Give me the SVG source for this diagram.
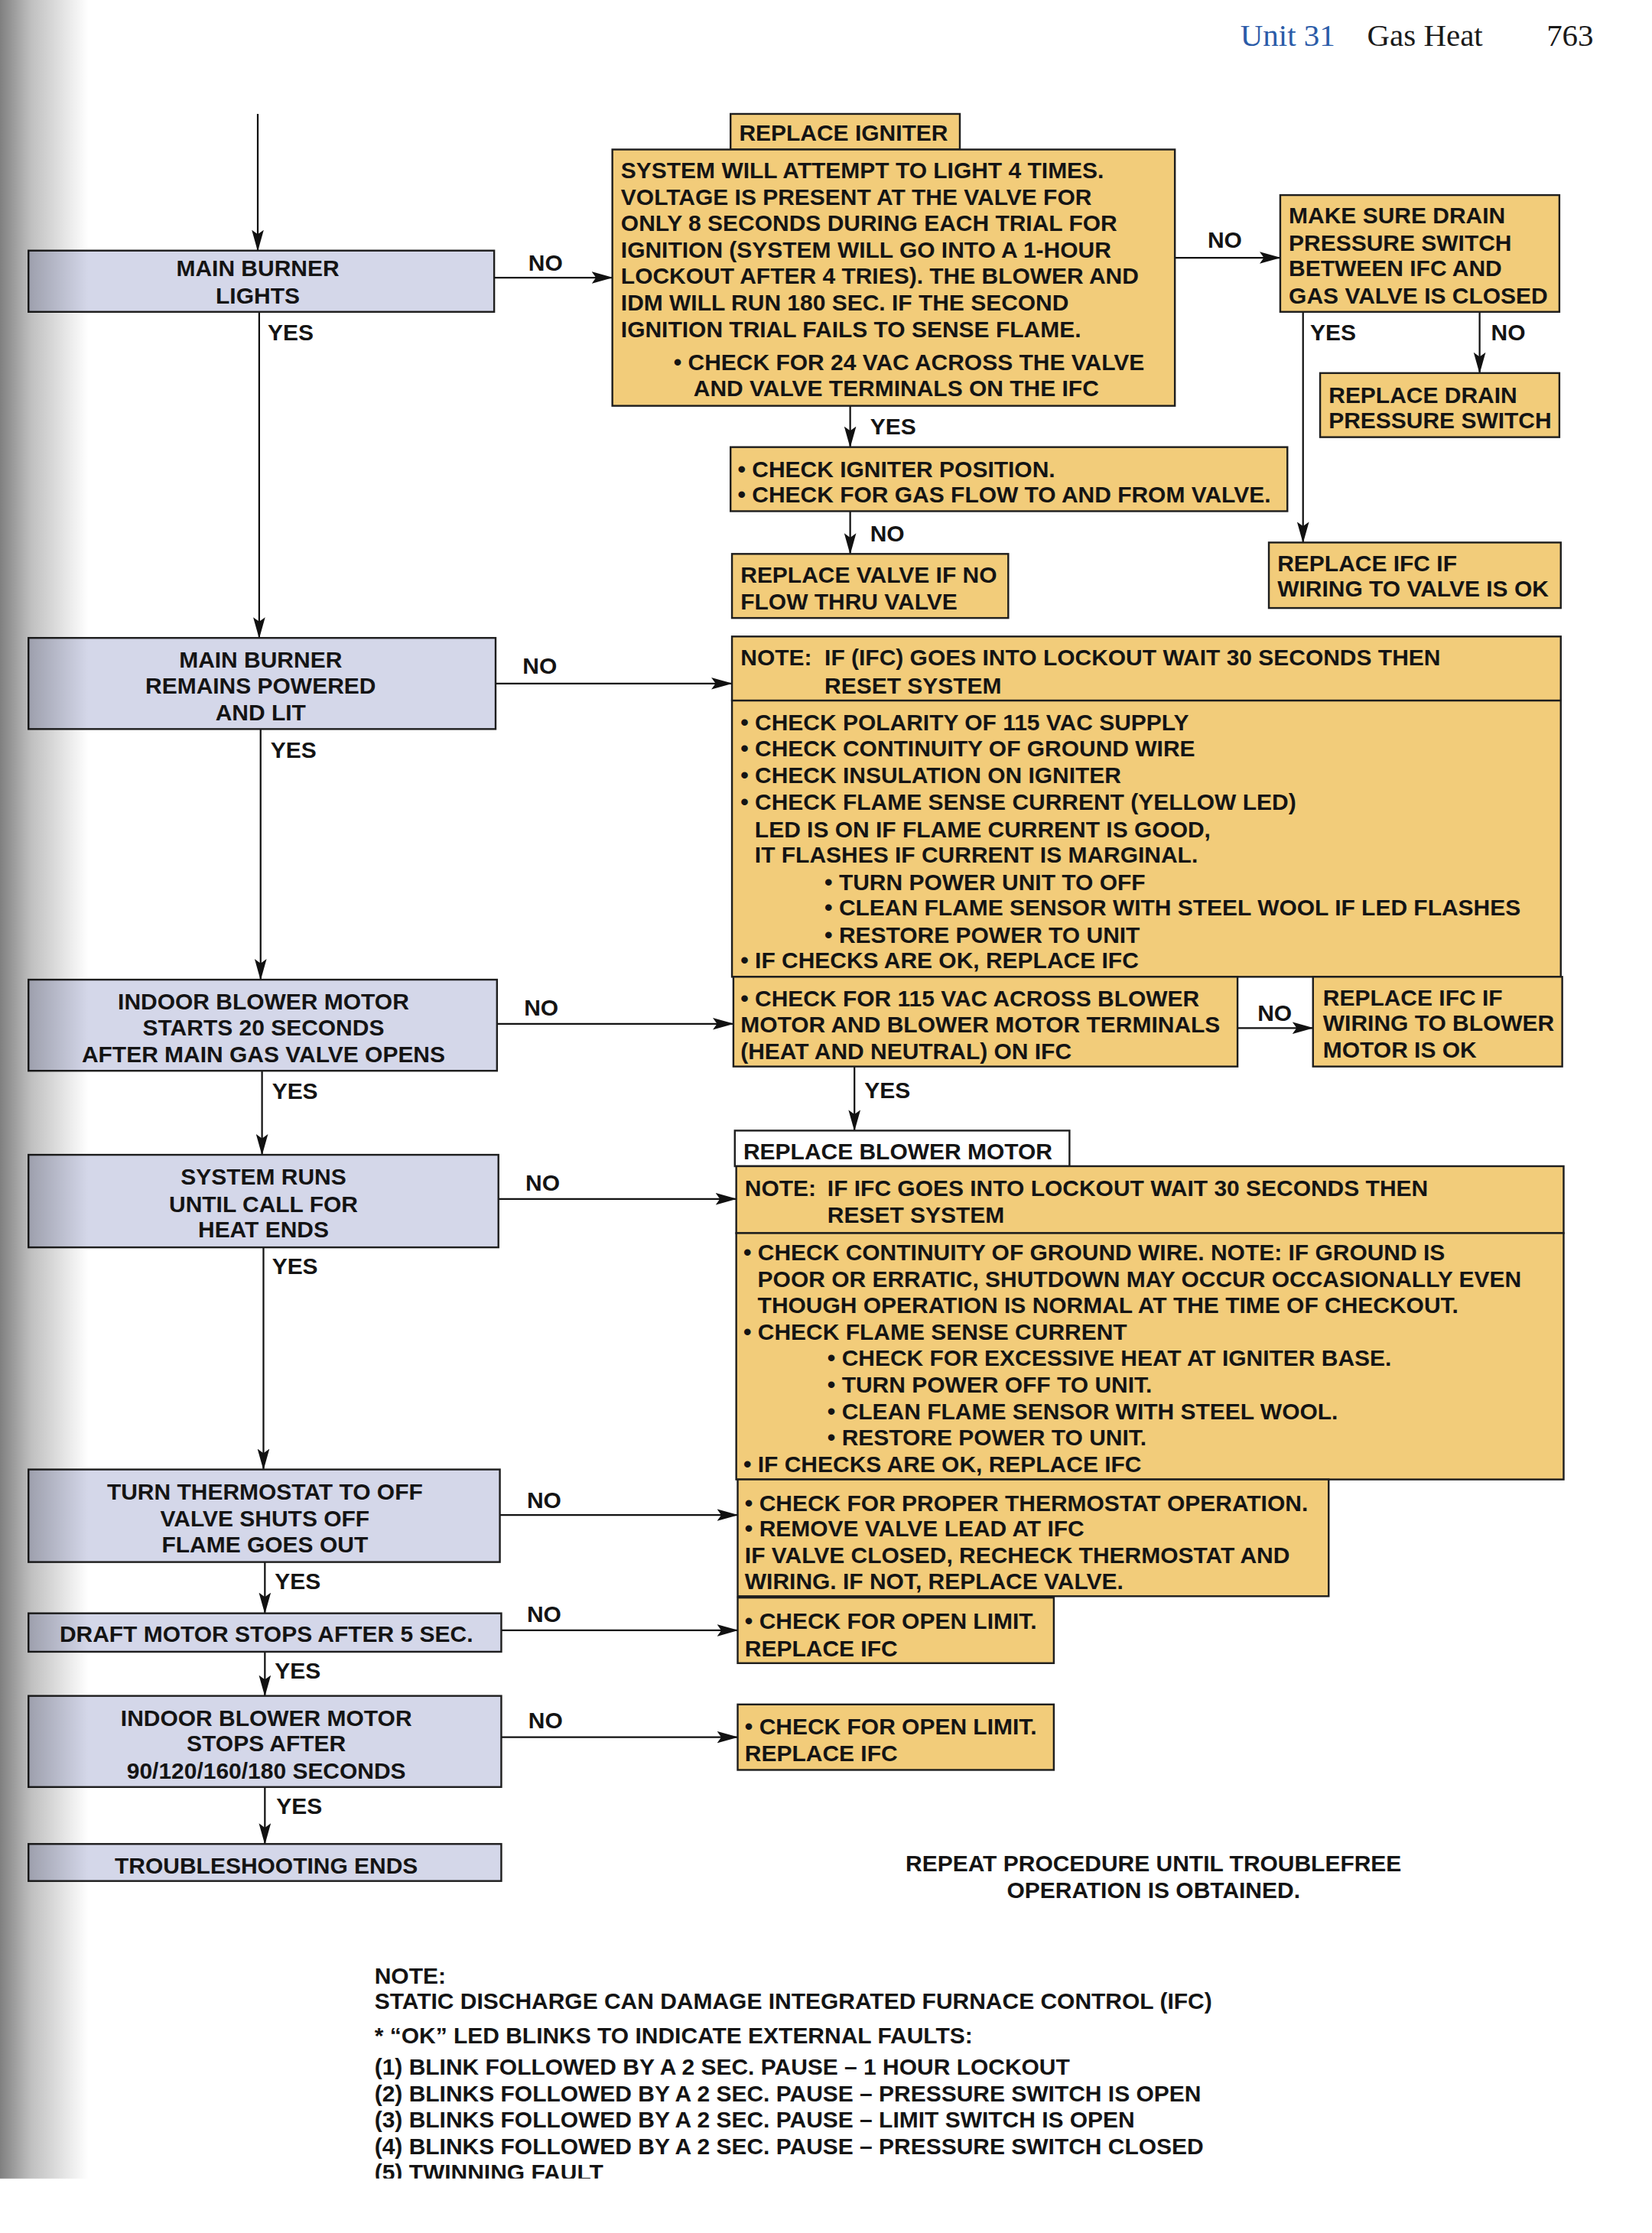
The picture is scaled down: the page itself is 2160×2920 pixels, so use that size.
<svg xmlns="http://www.w3.org/2000/svg" width="2160" height="2920" viewBox="0 0 2160 2920">
<defs>
<style>
.t{font-family:"Liberation Sans",Arial,sans-serif;font-weight:bold;font-size:16.1px;fill:#141414}
.c{text-anchor:middle}
.hd{font-family:"Liberation Serif","Times New Roman",serif;font-size:22px;fill:#1a1a1a}
.q{fill:#d4d7e9;stroke:#1e1e1e;stroke-width:1.3}
.y{fill:#f2cc7a;stroke:#1e1e1e;stroke-width:1.3}
.w{fill:#ffffff;stroke:#1e1e1e;stroke-width:1.3}
.ln{fill:none;stroke:#111;stroke-width:1.2;marker-end:url(#ah)}
</style>
<marker id="ah" markerUnits="userSpaceOnUse" viewBox="0 0 15 9" refX="14.5" refY="4.5" markerWidth="15" markerHeight="9" orient="auto">
<path d="M0,0.3 L15,4.5 L0,8.7 L3,4.5 Z" fill="#111"/>
</marker>
<linearGradient id="gut" x1="0" y1="0" x2="1" y2="0">
<stop offset="0" stop-color="#000" stop-opacity="0.5"/>
<stop offset="0.35" stop-color="#000" stop-opacity="0.25"/>
<stop offset="1" stop-color="#000" stop-opacity="0"/>
</linearGradient>
<clipPath id="pg"><rect x="0" y="0" width="1160" height="1530"/></clipPath>
</defs>
<rect x="0" y="0" width="2160" height="2920" fill="#ffffff"/>
<g transform="scale(1.862)">
<g id="header">
<text class="hd" x="871" y="32" style="fill:#2b5ba8">Unit 31</text>
<text class="hd" x="960" y="32">Gas Heat</text>
<text class="hd" x="1086" y="32">763</text>
</g>

<g id="connectors">
<path class="ln" d="M181,80 V176"/>
<path class="ln" d="M182,219 V448"/>
<path class="ln" d="M183,512 V688"/>
<path class="ln" d="M184,752 V811"/>
<path class="ln" d="M185,876 V1032"/>
<path class="ln" d="M186,1097 V1133"/>
<path class="ln" d="M186,1160 V1191"/>
<path class="ln" d="M186,1255 V1295"/>
<path class="ln" d="M347,195 H430"/>
<path class="ln" d="M348,480 H514"/>
<path class="ln" d="M349,719 H515"/>
<path class="ln" d="M350,842 H517"/>
<path class="ln" d="M351,1064 H518"/>
<path class="ln" d="M352,1145 H518"/>
<path class="ln" d="M352,1220 H518"/>
<path class="ln" d="M825,181 H899"/>
<path class="ln" d="M915,219 V381"/>
<path class="ln" d="M1039,219 V262"/>
<path class="ln" d="M597,285 V314"/>
<path class="ln" d="M597,359 V389"/>
<path class="ln" d="M869,722 H922"/>
<path class="ln" d="M600,749 V794"/>
<text class="t" x="188" y="239">YES</text>
<text class="t" x="190" y="532">YES</text>
<text class="t" x="191" y="772">YES</text>
<text class="t" x="191" y="895">YES</text>
<text class="t" x="193" y="1116">YES</text>
<text class="t" x="193" y="1179">YES</text>
<text class="t" x="194" y="1274">YES</text>
<text class="t" x="371" y="190">NO</text>
<text class="t" x="367" y="473">NO</text>
<text class="t" x="368" y="713">NO</text>
<text class="t" x="369" y="836">NO</text>
<text class="t" x="370" y="1059">NO</text>
<text class="t" x="370" y="1139">NO</text>
<text class="t" x="371" y="1214">NO</text>
<text class="t" x="848" y="174">NO</text>
<text class="t" x="920" y="239">YES</text>
<text class="t" x="1047" y="239">NO</text>
<text class="t" x="611" y="305">YES</text>
<text class="t" x="611" y="380">NO</text>
<text class="t" x="883" y="717">NO</text>
<text class="t" x="607" y="771">YES</text>
</g>

<g id="n-main-burner-lights">
<rect class="q" x="20" y="176" width="327" height="43"/>
<text class="t c" x="181" y="194">MAIN BURNER</text>
<text class="t c" x="181" y="213">LIGHTS</text>
</g>
<g id="n-remains-lit">
<rect class="q" x="20" y="448" width="328" height="64"/>
<text class="t c" x="183" y="469">MAIN BURNER</text>
<text class="t c" x="183" y="487">REMAINS POWERED</text>
<text class="t c" x="183" y="506">AND LIT</text>
</g>
<g id="n-blower-starts">
<rect class="q" x="20" y="688" width="329" height="64"/>
<text class="t c" x="185" y="709">INDOOR BLOWER MOTOR</text>
<text class="t c" x="185" y="727">STARTS 20 SECONDS</text>
<text class="t c" x="185" y="746">AFTER MAIN GAS VALVE OPENS</text>
</g>
<g id="n-system-runs">
<rect class="q" x="20" y="811" width="330" height="65"/>
<text class="t c" x="185" y="832">SYSTEM RUNS</text>
<text class="t c" x="185" y="851">UNTIL CALL FOR</text>
<text class="t c" x="185" y="869">HEAT ENDS</text>
</g>
<g id="n-thermostat-off">
<rect class="q" x="20" y="1032" width="331" height="65"/>
<text class="t c" x="186" y="1053">TURN THERMOSTAT TO OFF</text>
<text class="t c" x="186" y="1072">VALVE SHUTS OFF</text>
<text class="t c" x="186" y="1090">FLAME GOES OUT</text>
</g>
<g id="n-draft-motor">
<rect class="q" x="20" y="1133" width="332" height="27"/>
<text class="t c" x="187" y="1153">DRAFT MOTOR STOPS AFTER 5 SEC.</text>
</g>
<g id="n-blower-stops">
<rect class="q" x="20" y="1191" width="332" height="64"/>
<text class="t c" x="187" y="1212">INDOOR BLOWER MOTOR</text>
<text class="t c" x="187" y="1230">STOPS AFTER</text>
<text class="t c" x="187" y="1249">90/120/160/180 SECONDS</text>
</g>
<g id="n-ends">
<rect class="q" x="20" y="1295" width="332" height="26"/>
<text class="t c" x="187" y="1316">TROUBLESHOOTING ENDS</text>
</g>

<g id="n-replace-igniter">
<rect class="y" x="513" y="80" width="161" height="25"/>
<text class="t" x="519" y="99">REPLACE IGNITER</text>
</g>
<g id="n-attempt-light">
<rect class="y" x="430" y="105" width="395" height="180"/>
<text class="t" x="436" y="125">SYSTEM WILL ATTEMPT TO LIGHT 4 TIMES.</text>
<text class="t" x="436" y="144">VOLTAGE IS PRESENT AT THE VALVE FOR</text>
<text class="t" x="436" y="162">ONLY 8 SECONDS DURING EACH TRIAL FOR</text>
<text class="t" x="436" y="181">IGNITION (SYSTEM WILL GO INTO A 1-HOUR</text>
<text class="t" x="436" y="199">LOCKOUT AFTER 4 TRIES). THE BLOWER AND</text>
<text class="t" x="436" y="218">IDM WILL RUN 180 SEC. IF THE SECOND</text>
<text class="t" x="436" y="237">IGNITION TRIAL FAILS TO SENSE FLAME.</text>
<text class="t" x="473" y="260">• CHECK FOR 24 VAC ACROSS THE VALVE</text>
<text class="t" x="487" y="278">AND VALVE TERMINALS ON THE IFC</text>
</g>
<g id="n-drain-switch">
<rect class="y" x="899" y="137" width="196" height="82"/>
<text class="t" x="905" y="157">MAKE SURE DRAIN</text>
<text class="t" x="905" y="176">PRESSURE SWITCH</text>
<text class="t" x="905" y="194">BETWEEN IFC AND</text>
<text class="t" x="905" y="213">GAS VALVE IS CLOSED</text>
</g>
<g id="n-replace-drain">
<rect class="y" x="927" y="262" width="168" height="45"/>
<text class="t" x="933" y="283">REPLACE DRAIN</text>
<text class="t" x="933" y="301">PRESSURE SWITCH</text>
</g>
<g id="n-replace-ifc-valve">
<rect class="y" x="891" y="381" width="205" height="46"/>
<text class="t" x="897" y="401">REPLACE IFC IF</text>
<text class="t" x="897" y="419">WIRING TO VALVE IS OK</text>
</g>
<g id="n-igniter-position">
<rect class="y" x="513" y="314" width="391" height="45"/>
<text class="t" x="518" y="335">• CHECK IGNITER POSITION.</text>
<text class="t" x="518" y="353">• CHECK FOR GAS FLOW TO AND FROM VALVE.</text>
</g>
<g id="n-replace-valve">
<rect class="y" x="514" y="389" width="194" height="45"/>
<text class="t" x="520" y="409">REPLACE VALVE IF NO</text>
<text class="t" x="520" y="428">FLOW THRU VALVE</text>
</g>
<g id="n-note-lockout-1">
<rect class="y" x="514" y="447" width="582" height="45"/>
<text class="t" x="520" y="467">NOTE:</text>
<text class="t" x="579" y="467">IF (IFC) GOES INTO LOCKOUT WAIT 30 SECONDS THEN</text>
<text class="t" x="579" y="487">RESET SYSTEM</text>
</g>
<g id="n-checks-1">
<rect class="y" x="514" y="492" width="582" height="194"/>
<text class="t" x="520" y="513">• CHECK POLARITY OF 115 VAC SUPPLY</text>
<text class="t" x="520" y="531">• CHECK CONTINUITY OF GROUND WIRE</text>
<text class="t" x="520" y="550">• CHECK INSULATION ON IGNITER</text>
<text class="t" x="520" y="569">• CHECK FLAME SENSE CURRENT (YELLOW LED)</text>
<text class="t" x="530" y="588">LED IS ON IF FLAME CURRENT IS GOOD,</text>
<text class="t" x="530" y="606">IT FLASHES IF CURRENT IS MARGINAL.</text>
<text class="t" x="579" y="625">• TURN POWER UNIT TO OFF</text>
<text class="t" x="579" y="643">• CLEAN FLAME SENSOR WITH STEEL WOOL IF LED FLASHES</text>
<text class="t" x="579" y="662">• RESTORE POWER TO UNIT</text>
<text class="t" x="520" y="680">• IF CHECKS ARE OK, REPLACE IFC</text>
</g>
<g id="n-check-115-blower">
<rect class="y" x="515" y="686" width="354" height="63"/>
<text class="t" x="520" y="707">• CHECK FOR 115 VAC ACROSS BLOWER</text>
<text class="t" x="520" y="725">MOTOR AND BLOWER MOTOR TERMINALS</text>
<text class="t" x="520" y="744">(HEAT AND NEUTRAL) ON IFC</text>
</g>
<g id="n-replace-ifc-blower">
<rect class="y" x="922" y="686" width="175" height="63"/>
<text class="t" x="929" y="706">REPLACE IFC IF</text>
<text class="t" x="929" y="724">WIRING TO BLOWER</text>
<text class="t" x="929" y="743">MOTOR IS OK</text>
</g>
<g id="n-replace-blower-motor">
<rect class="w" x="516" y="794" width="235" height="25"/>
<text class="t" x="522" y="814">REPLACE BLOWER MOTOR</text>
</g>
<g id="n-note-lockout-2">
<rect class="y" x="517" y="819" width="581" height="47"/>
<text class="t" x="523" y="840">NOTE:</text>
<text class="t" x="581" y="840">IF IFC GOES INTO LOCKOUT WAIT 30 SECONDS THEN</text>
<text class="t" x="581" y="859">RESET SYSTEM</text>
</g>
<g id="n-checks-2">
<rect class="y" x="517" y="866" width="581" height="173"/>
<text class="t" x="522" y="885">• CHECK CONTINUITY OF GROUND WIRE. NOTE: IF GROUND IS</text>
<text class="t" x="532" y="904">POOR OR ERRATIC, SHUTDOWN MAY OCCUR OCCASIONALLY EVEN</text>
<text class="t" x="532" y="922">THOUGH OPERATION IS NORMAL AT THE TIME OF CHECKOUT.</text>
<text class="t" x="522" y="941">• CHECK FLAME SENSE CURRENT</text>
<text class="t" x="581" y="959">• CHECK FOR EXCESSIVE HEAT AT IGNITER BASE.</text>
<text class="t" x="581" y="978">• TURN POWER OFF TO UNIT.</text>
<text class="t" x="581" y="997">• CLEAN FLAME SENSOR WITH STEEL WOOL.</text>
<text class="t" x="581" y="1015">• RESTORE POWER TO UNIT.</text>
<text class="t" x="522" y="1034">• IF CHECKS ARE OK, REPLACE IFC</text>
</g>
<g id="n-thermostat-check">
<rect class="y" x="518" y="1039" width="415" height="82"/>
<text class="t" x="523" y="1061">• CHECK FOR PROPER THERMOSTAT OPERATION.</text>
<text class="t" x="523" y="1079">• REMOVE VALVE LEAD AT IFC</text>
<text class="t" x="523" y="1098">IF VALVE CLOSED, RECHECK THERMOSTAT AND</text>
<text class="t" x="523" y="1116">WIRING. IF NOT, REPLACE VALVE.</text>
</g>
<g id="n-open-limit-1">
<rect class="y" x="518" y="1122" width="222" height="46"/>
<text class="t" x="523" y="1144">• CHECK FOR OPEN LIMIT.</text>
<text class="t" x="523" y="1163">REPLACE IFC</text>
</g>
<g id="n-open-limit-2">
<rect class="y" x="518" y="1197" width="222" height="46"/>
<text class="t" x="523" y="1218">• CHECK FOR OPEN LIMIT.</text>
<text class="t" x="523" y="1237">REPLACE IFC</text>
</g>

<g id="repeat-note">
<text class="t c" x="810" y="1314">REPEAT PROCEDURE UNTIL TROUBLEFREE</text>
<text class="t c" x="810" y="1333">OPERATION IS OBTAINED.</text>
</g>
<g id="footnote" clip-path="url(#pg)">
<text class="t" x="263" y="1393">NOTE:</text>
<text class="t" x="263" y="1411">STATIC DISCHARGE CAN DAMAGE INTEGRATED FURNACE CONTROL (IFC)</text>
<text class="t" x="263" y="1435">* “OK” LED BLINKS TO INDICATE EXTERNAL FAULTS:</text>
<text class="t" x="263" y="1457">(1) BLINK FOLLOWED BY A 2 SEC. PAUSE – 1 HOUR LOCKOUT</text>
<text class="t" x="263" y="1476">(2) BLINKS FOLLOWED BY A 2 SEC. PAUSE – PRESSURE SWITCH IS OPEN</text>
<text class="t" x="263" y="1494">(3) BLINKS FOLLOWED BY A 2 SEC. PAUSE – LIMIT SWITCH IS OPEN</text>
<text class="t" x="263" y="1513">(4) BLINKS FOLLOWED BY A 2 SEC. PAUSE – PRESSURE SWITCH CLOSED</text>
<text class="t" x="263" y="1531">(5) TWINNING FAULT</text>
</g>
<rect x="0" y="0" width="62" height="1530" fill="url(#gut)"/>
</g>
</svg>
